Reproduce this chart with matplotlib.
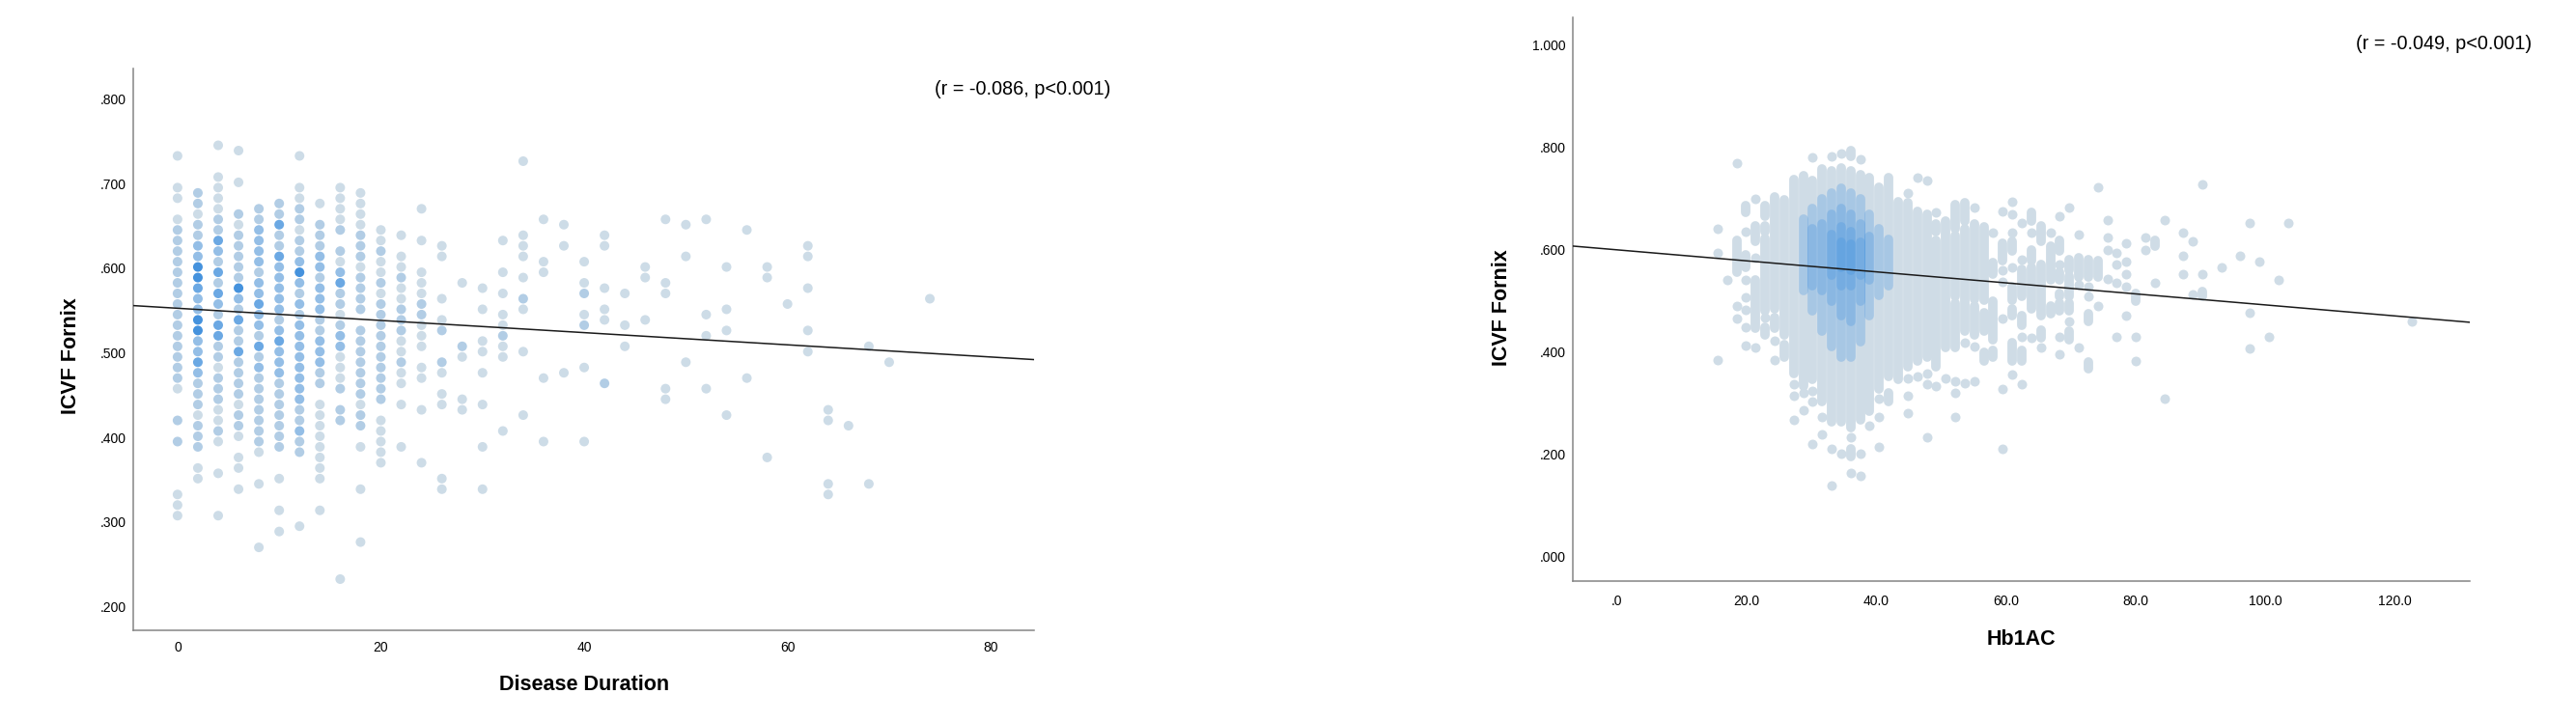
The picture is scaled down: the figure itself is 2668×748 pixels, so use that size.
import matplotlib
matplotlib.use("Agg")
import matplotlib.pyplot as plt
from matplotlib.collections import LineCollection

plt.rcParams['font.family'] = ['Liberation Sans', 'DejaVu Sans']

W, H, DPI = 2668, 748, 100

# ---------------- Left panel: Disease Duration vs ICVF Fornix (hex-binned) ----------------
# bin centre y = LEFT_Y0 + k * LEFT_DY ; each column gives its top k and the bin levels
# from top to bottom ('.' = empty bin, 1..5 = density level of the bin)
LEFT_Y0 = 0.22
LEFT_DY = 0.0125
LEFT_COL_X = [0, 2, 4, 6, 8, 10, 12, 14, 16, 18, 20, 22, 24, 26, 28, 30, 32, 34, 36,
              38, 40, 42, 44, 46, 48, 50, 52, 54, 56, 58, 60, 62, 64, 66, 68, 70, 74]
LEFT_COL_TOP = [41, 37.5, 42, 41.5, 36, 36.5, 41, 36.5, 38, 37.5, 34, 33.5, 36, 32.5, 29,
                28.5, 33, 40.5, 35, 34.5, 31, 33.5, 28, 30.5, 35, 34.5, 35, 30.5, 34, 30.5,
                27, 32.5, 17, 15.5, 23, 21.5, 27.5]
LEFT_COL_LEVELS = [
    "1..11.1 222222222222222 1..2.2....111",
    "22122 33554 33553 34322 21222 .11",
    "1..11 11224 32424 32442 21222 1121. .1... 1",
    "1..1. .2122 22253 24224 22221 221.1 1.1",
    "22333 32334 33242 32222 2221. .1... ..1",
    "22422 43333 32343 33222 2222. .1..1 .1",
    "1..11 22122 35323 23333 33332 2322. ..... 1",
    "1.222 33233 32233 322.1 11111 11..1",
    "11112 .2134 22123 31112 .22.. ..... ..... ..1",
    "11112 22122 22.22 22222 122.1 ...1. ...1",
    "11211 21222 22222 22.11 111",
    "1.112 11222 11211 .1... 1",
    "1..1. .1112 2111. 11..1 ....1",
    "11... 1.12. .21.1 1.... ..11",
    "1.....21...11",
    "1.1..11.1..1...1...1",
    "1..1.1.11211......1",
    "1......111.1.21...1.....1",
    "1...11.........1.....1",
    "1.1...........1",
    "1.12.12...1......1",
    "11...1.11.....2",
    "1..1.1",
    "11...1",
    "1.....11........11",
    "1..1.........1",
    "1........1.1....1",
    "1...1.1.......1",
    "1.............1",
    "11................1",
    "1",
    "11..1...1.1",
    "11.....11",
    "1",
    "1............1",
    "1",
    "1",
]
LEFT_FIT = (0.5525, -0.00072)   # intercept, slope of the fit line

# ---------------- Right panel: Hb1AC vs ICVF Fornix (hex-binned, dense) ----------------
RIGHT_COL_X = [15.51, 16.98, 18.45, 19.91, 21.38, 22.85, 24.31, 25.78, 27.25, 28.72,
               30.18, 31.65, 33.12, 34.58, 36.05, 37.52, 38.98, 40.45, 41.92, 43.39,
               44.85, 46.32, 47.79, 49.25, 50.72, 52.19, 53.65, 55.12, 56.59, 58.06,
               59.52, 60.99, 62.46, 63.92, 65.39, 66.86, 68.32, 69.79, 71.26, 72.73,
               74.19, 75.66, 77.13, 78.59, 80.06, 81.53, 82.99, 84.46, 87.40, 88.86,
               90.33, 93.26, 96.20, 97.66, 99.13, 100.60, 102.07, 103.53, 122.60]
# occupied bins per column as (top, bottom) runs of ICVF values
RIGHT_COL_RUNS = [
    [(0.641, 0.641), (0.594, 0.594), (0.384, 0.384)],
    [(0.541, 0.541)],
    [(0.769, 0.769), (0.619, 0.556), (0.489, 0.489), (0.466, 0.466)],
    [(0.686, 0.672), (0.636, 0.636), (0.590, 0.565), (0.541, 0.541), (0.506, 0.506),
     (0.482, 0.482), (0.448, 0.448), (0.413, 0.413)],
    [(0.699, 0.699), (0.647, 0.616), (0.584, 0.584), (0.540, 0.446), (0.408, 0.408)],
    [(0.686, 0.666), (0.647, 0.635), (0.622, 0.480), (0.467, 0.467), (0.449, 0.433)],
    [(0.703, 0.484), (0.468, 0.446), (0.421, 0.421), (0.384, 0.384)],
    [(0.697, 0.433), (0.415, 0.390)],
    [(0.738, 0.358), (0.336, 0.336), (0.314, 0.314), (0.267, 0.267)],
    [(0.744, 0.333), (0.320, 0.320), (0.286, 0.286)],
    [(0.781, 0.781), (0.735, 0.346), (0.324, 0.324), (0.302, 0.302), (0.220, 0.220)],
    [(0.757, 0.302), (0.273, 0.273), (0.239, 0.239)],
    [(0.782, 0.782), (0.754, 0.264), (0.211, 0.211), (0.138, 0.138)],
    [(0.788, 0.788), (0.760, 0.264), (0.201, 0.201)],
    [(0.794, 0.782), (0.754, 0.251), (0.233, 0.233), (0.211, 0.195), (0.163, 0.163)],
    [(0.776, 0.776), (0.747, 0.267), (0.201, 0.201), (0.157, 0.157)],
    [(0.741, 0.283), (0.255, 0.255)],
    [(0.722, 0.327), (0.308, 0.308), (0.273, 0.273), (0.214, 0.214)],
    [(0.741, 0.352), (0.320, 0.302)],
    [(0.694, 0.346)],
    [(0.710, 0.710), (0.691, 0.371), (0.349, 0.349), (0.314, 0.314), (0.280, 0.280)],
    [(0.741, 0.741), (0.675, 0.383), (0.352, 0.352)],
    [(0.735, 0.735), (0.669, 0.390), (0.358, 0.358), (0.336, 0.336), (0.233, 0.233)],
    [(0.672, 0.672), (0.650, 0.635), (0.619, 0.371), (0.333, 0.333)],
    [(0.656, 0.408), (0.349, 0.349)],
    [(0.688, 0.641), (0.628, 0.509), (0.496, 0.408), (0.343, 0.343), (0.320, 0.320),
     (0.273, 0.273)],
    [(0.691, 0.655), (0.641, 0.440), (0.418, 0.418), (0.339, 0.339)],
    [(0.682, 0.682), (0.650, 0.503), (0.490, 0.433), (0.411, 0.411), (0.342, 0.342)],
    [(0.644, 0.502), (0.477, 0.440), (0.399, 0.383)],
    [(0.634, 0.634), (0.575, 0.553), (0.499, 0.424), (0.402, 0.390)],
    [(0.675, 0.675), (0.612, 0.578), (0.559, 0.559), (0.537, 0.537), (0.465, 0.465),
     (0.327, 0.327), (0.211, 0.211)],
    [(0.693, 0.693), (0.669, 0.669), (0.634, 0.634), (0.616, 0.597), (0.565, 0.565),
     (0.528, 0.502), (0.484, 0.471), (0.418, 0.383), (0.355, 0.355)],
    [(0.653, 0.653), (0.581, 0.581), (0.562, 0.509), (0.471, 0.452), (0.430, 0.430),
     (0.402, 0.383), (0.336, 0.336)],
    [(0.672, 0.656), (0.634, 0.634), (0.600, 0.578), (0.565, 0.484), (0.427, 0.427)],
    [(0.647, 0.616), (0.571, 0.471), (0.443, 0.427), (0.408, 0.408)],
    [(0.634, 0.634), (0.606, 0.540), (0.490, 0.474)],
    [(0.666, 0.666), (0.619, 0.597), (0.571, 0.571), (0.556, 0.540), (0.515, 0.509),
     (0.496, 0.481), (0.430, 0.430), (0.396, 0.396)],
    [(0.682, 0.682), (0.581, 0.559), (0.549, 0.509), (0.496, 0.481), (0.459, 0.459),
     (0.440, 0.424)],
    [(0.629, 0.629), (0.584, 0.546), (0.531, 0.531), (0.408, 0.408)],
    [(0.581, 0.546), (0.528, 0.528), (0.509, 0.509), (0.474, 0.459), (0.380, 0.367)],
    [(0.722, 0.722), (0.578, 0.546), (0.490, 0.490)],
    [(0.658, 0.658), (0.623, 0.623), (0.600, 0.600), (0.543, 0.543)],
    [(0.593, 0.593), (0.571, 0.571), (0.535, 0.535), (0.430, 0.430)],
    [(0.612, 0.612), (0.577, 0.577), (0.553, 0.553), (0.528, 0.528), (0.471, 0.471)],
    [(0.515, 0.499), (0.430, 0.430), (0.383, 0.383)],
    [(0.623, 0.623), (0.600, 0.600)],
    [(0.619, 0.606), (0.535, 0.535)],
    [(0.658, 0.658), (0.308, 0.308)],
    [(0.634, 0.634), (0.588, 0.588), (0.553, 0.553)],
    [(0.617, 0.617), (0.512, 0.512)],
    [(0.728, 0.728), (0.553, 0.553), (0.518, 0.509)],
    [(0.565, 0.565)],
    [(0.588, 0.588)],
    [(0.652, 0.652), (0.477, 0.477), (0.407, 0.407)],
    [(0.577, 0.577)],
    [(0.430, 0.430)],
    [(0.541, 0.541)],
    [(0.652, 0.652)],
    [(0.459, 0.459)],
]
# denser bins in the core: column x, top, bottom (each row adds one density step)
RIGHT_DENSE_X = [28.72, 30.18, 30.18, 31.65, 31.65, 33.12, 33.12, 33.12, 34.58, 34.58,
                 34.58, 34.58, 36.05, 36.05, 36.05, 36.05, 37.52, 37.52, 37.52, 38.98,
                 38.98, 40.45, 41.92]
RIGHT_DENSE_TOP = [0.66, 0.68, 0.64, 0.70, 0.65, 0.71, 0.67, 0.63, 0.72, 0.68,
                   0.645, 0.615, 0.71, 0.67, 0.635, 0.61, 0.70, 0.65, 0.615, 0.67,
                   0.625, 0.64, 0.62]
RIGHT_DENSE_BOT = [0.52, 0.48, 0.53, 0.44, 0.52, 0.41, 0.50, 0.55, 0.39, 0.47,
                   0.53, 0.565, 0.39, 0.46, 0.53, 0.56, 0.42, 0.50, 0.55, 0.47,
                   0.54, 0.51, 0.53]
RIGHT_FIT = (0.5996, -0.001077)   # intercept, slope of the fit line

LEVEL_COLORS = {1: '#cddce7', 2: '#b2cde5', 3: '#94bee6', 4: '#6ba8e3', 5: '#4592dd'}
BASE_RIGHT = '#cfdce6'
DENSE_COLOR = '#3d8fe0'
DENSE_ALPHA = 0.27

DOT_PX = 10.0
BAR_PX = 9.8

def px2pt(p):
    return p * 72 / DPI

fig = plt.figure(figsize=(W / DPI, H / DPI), dpi=DPI)
axL = fig.add_axes([0.05187, 0.12767, 0.34955, 0.77741])
axR = fig.add_axes([0.61057, 0.19519, 0.34820, 0.78115])

# ---- left scatter
px, py, pc = [], [], []
for x, top, lev in zip(LEFT_COL_X, LEFT_COL_TOP, LEFT_COL_LEVELS):
    lev = lev.replace(' ', '')
    for j, ch in enumerate(lev):
        if ch == '.':
            continue
        px.append(x)
        py.append(LEFT_Y0 + (top - j) * LEFT_DY)
        pc.append(LEVEL_COLORS[int(ch)])
axL.scatter(px, py, s=px2pt(DOT_PX) ** 2, c=pc, linewidths=0, zorder=2)
axL.axline((0, LEFT_FIT[0]), slope=LEFT_FIT[1], color='#1a1a1a', lw=1.1, zorder=3)

# ---- right scatter (runs of overlapping bins)
segs, dx, dy = [], [], []
for x, runs in zip(RIGHT_COL_X, RIGHT_COL_RUNS):
    for top, bot in runs:
        if top == bot:
            dx.append(x); dy.append(top)
        else:
            segs.append([(x, top), (x, bot)])
axR.add_collection(LineCollection(segs, linewidths=px2pt(BAR_PX), colors=BASE_RIGHT,
                                  capstyle='round', zorder=2))
axR.scatter(dx, dy, s=px2pt(DOT_PX) ** 2, c=BASE_RIGHT, linewidths=0, zorder=2)
for x, t, b in zip(RIGHT_DENSE_X, RIGHT_DENSE_TOP, RIGHT_DENSE_BOT):
    axR.add_collection(LineCollection([[(x, t), (x, b)]], linewidths=px2pt(BAR_PX),
                                      colors=DENSE_COLOR, alpha=DENSE_ALPHA,
                                      capstyle='round', zorder=2.5))
axR.axline((0, RIGHT_FIT[0]), slope=RIGHT_FIT[1], color='#1a1a1a', lw=1.1, zorder=3)

# ---- axes styling
axL.set_xlim(-4.32, 84.25)
axL.set_ylim(0.1726, 0.8357)
axR.set_xlim(-6.83, 131.6)
axR.set_ylim(-0.0485, 1.055)

LEFT_XTICKS = [0, 20, 40, 60, 80]
LEFT_YTICKS = [0.2, 0.3, 0.4, 0.5, 0.6, 0.7, 0.8]
RIGHT_XTICKS = [0, 20, 40, 60, 80, 100, 120]
RIGHT_YTICKS = [0.0, 0.2, 0.4, 0.6, 0.8, 1.0]

axL.set_xticks(LEFT_XTICKS, [str(v) for v in LEFT_XTICKS])
axL.set_yticks(LEFT_YTICKS, [f"{v:.3f}".lstrip('0') for v in LEFT_YTICKS])
axR.set_xticks(RIGHT_XTICKS, [f"{v:.1f}".lstrip('0') for v in RIGHT_XTICKS])
axR.set_yticks(RIGHT_YTICKS, [f"{v:.3f}".lstrip('0') for v in RIGHT_YTICKS])

for ax, xpad in ((axL, 8.5), (axR, 10.0)):
    for s in ('top', 'right'):
        ax.spines[s].set_visible(False)
    for s in ('left', 'bottom'):
        ax.spines[s].set_color('#858585')
        ax.spines[s].set_linewidth(1.1)
    ax.tick_params(axis='both', length=0, labelsize=10, colors='black')
    ax.tick_params(axis='x', pad=xpad)
    ax.tick_params(axis='y', pad=5.3)
    ax.set_facecolor('white')

axL.set_xlabel('Disease Duration', fontsize=15.5, fontweight='bold', va='center')
axL.xaxis.set_label_coords(0.5, -0.0982)
axL.set_ylabel('ICVF Fornix', fontsize=15.5, fontweight='bold', va='center', ha='center')
axL.yaxis.set_label_coords(-0.0698, 0.4875)

axR.set_xlabel('Hb1AC', fontsize=15.5, fontweight='bold', va='center')
axR.xaxis.set_label_coords(0.5, -0.1027)
axR.set_ylabel('ICVF Fornix', fontsize=15.5, fontweight='bold', va='center', ha='center')
axR.yaxis.set_label_coords(-0.0786, 0.4852)

fig.text(968 / W, 1 - 92 / H, '(r = -0.086, p<0.001)', fontsize=14.3, ha='left', va='center')
fig.text(2440 / W, 1 - 45.7 / H, '(r = -0.049, p<0.001)', fontsize=14.3, ha='left', va='center')

fig.savefig('out.png', dpi=DPI, facecolor='white')
